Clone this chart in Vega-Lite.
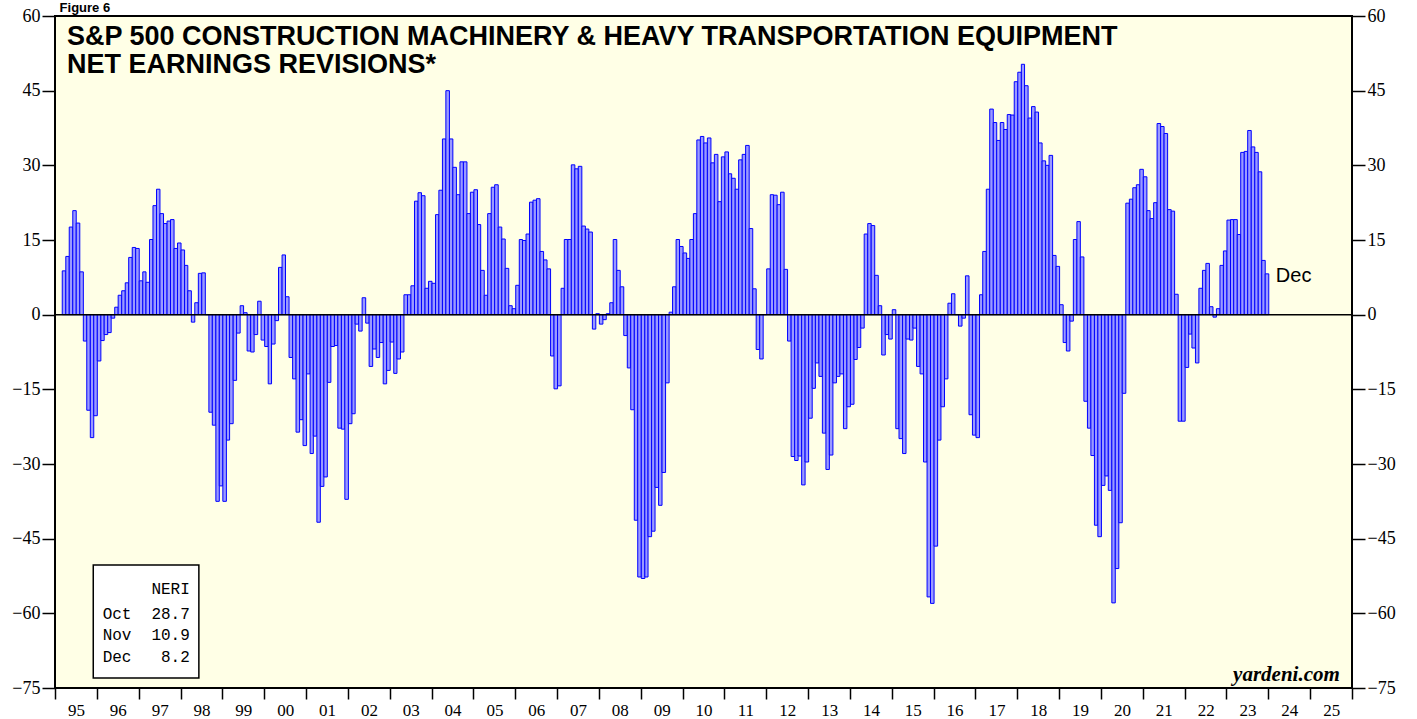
{
"$schema": "https://vega.github.io/schema/vega-lite/v6.json",
"width": 1297, "height": 672,
"autosize": {"type": "none"},
"padding": {"left": 55, "top": 16, "right": 65, "bottom": 31},
"background": "#ffffff",
"config": {"view": {"fill": "#FFFFE6", "stroke": "#000000", "strokeWidth": 2}, "axis": {"grid": false, "domain": false}},
"datasets": {"neri": [
{"d":"1995-03-15","v":8.8},{"d":"1995-04-15","v":11.7},{"d":"1995-05-15","v":17.6},{"d":"1995-06-15","v":20.9},{"d":"1995-07-15","v":18.4},{"d":"1995-08-15","v":8.6},{"d":"1995-09-15","v":-5.3},{"d":"1995-10-15","v":-19.2},{"d":"1995-11-15","v":-24.7},{"d":"1995-12-15","v":-20.3},
{"d":"1996-01-15","v":-9.3},{"d":"1996-02-15","v":-5.2},{"d":"1996-03-15","v":-4.0},{"d":"1996-04-15","v":-3.6},{"d":"1996-05-15","v":-0.7},{"d":"1996-06-15","v":1.5},{"d":"1996-07-15","v":3.9},{"d":"1996-08-15","v":4.8},{"d":"1996-09-15","v":6.4},{"d":"1996-10-15","v":11.5},{"d":"1996-11-15","v":13.5},{"d":"1996-12-15","v":13.3},
{"d":"1997-01-15","v":6.8},{"d":"1997-02-15","v":8.6},{"d":"1997-03-15","v":6.5},{"d":"1997-04-15","v":15.1},{"d":"1997-05-15","v":21.9},{"d":"1997-06-15","v":25.2},{"d":"1997-07-15","v":20.3},{"d":"1997-08-15","v":18.3},{"d":"1997-09-15","v":18.8},{"d":"1997-10-15","v":19.1},{"d":"1997-11-15","v":13.3},{"d":"1997-12-15","v":14.4},
{"d":"1998-01-15","v":13.0},{"d":"1998-02-15","v":9.9},{"d":"1998-03-15","v":4.8},{"d":"1998-04-15","v":-1.5},{"d":"1998-05-15","v":2.4},{"d":"1998-06-15","v":8.3},{"d":"1998-07-15","v":8.4},{"d":"1998-08-15","v":0},{"d":"1998-09-15","v":-19.6},{"d":"1998-10-15","v":-22.2},{"d":"1998-11-15","v":-37.5},{"d":"1998-12-15","v":-34.4},
{"d":"1999-01-15","v":-37.5},{"d":"1999-02-15","v":-25.2},{"d":"1999-03-15","v":-21.9},{"d":"1999-04-15","v":-13.2},{"d":"1999-05-15","v":-3.7},{"d":"1999-06-15","v":1.8},{"d":"1999-07-15","v":0.4},{"d":"1999-08-15","v":-7.3},{"d":"1999-09-15","v":-7.5},{"d":"1999-10-15","v":-4.0},{"d":"1999-11-15","v":2.7},{"d":"1999-12-15","v":-5.1},
{"d":"2000-01-15","v":-6.4},{"d":"2000-02-15","v":-13.9},{"d":"2000-03-15","v":-5.9},{"d":"2000-04-15","v":-1.2},{"d":"2000-05-15","v":9.5},{"d":"2000-06-15","v":12.0},{"d":"2000-07-15","v":3.6},{"d":"2000-08-15","v":-8.6},{"d":"2000-09-15","v":-12.9},{"d":"2000-10-15","v":-23.6},{"d":"2000-11-15","v":-21.1},{"d":"2000-12-15","v":-26.3},
{"d":"2001-01-15","v":-11.9},{"d":"2001-02-15","v":-27.9},{"d":"2001-03-15","v":-24.4},{"d":"2001-04-15","v":-41.7},{"d":"2001-05-15","v":-34.5},{"d":"2001-06-15","v":-32.6},{"d":"2001-07-15","v":-13.6},{"d":"2001-08-15","v":-6.4},{"d":"2001-09-15","v":-6.2},{"d":"2001-10-15","v":-22.8},{"d":"2001-11-15","v":-23.0},{"d":"2001-12-15","v":-37.1},
{"d":"2002-01-15","v":-21.9},{"d":"2002-02-15","v":-19.9},{"d":"2002-03-15","v":-1.9},{"d":"2002-04-15","v":-3.3},{"d":"2002-05-15","v":3.4},{"d":"2002-06-15","v":-1.7},{"d":"2002-07-15","v":-10.4},{"d":"2002-08-15","v":-6.9},{"d":"2002-09-15","v":-8.6},{"d":"2002-10-15","v":-5.6},{"d":"2002-11-15","v":-13.9},{"d":"2002-12-15","v":-11.2},
{"d":"2003-01-15","v":-5.5},{"d":"2003-02-15","v":-11.8},{"d":"2003-03-15","v":-8.9},{"d":"2003-04-15","v":-7.5},{"d":"2003-05-15","v":4.0},{"d":"2003-06-15","v":4.0},{"d":"2003-07-15","v":5.8},{"d":"2003-08-15","v":22.8},{"d":"2003-09-15","v":24.5},{"d":"2003-10-15","v":23.9},{"d":"2003-11-15","v":5.3},{"d":"2003-12-15","v":6.7},
{"d":"2004-01-15","v":6.3},{"d":"2004-02-15","v":20.1},{"d":"2004-03-15","v":25.0},{"d":"2004-04-15","v":35.3},{"d":"2004-05-15","v":45.0},{"d":"2004-06-15","v":35.3},{"d":"2004-07-15","v":29.6},{"d":"2004-08-15","v":24.1},{"d":"2004-09-15","v":30.7},{"d":"2004-10-15","v":30.7},{"d":"2004-11-15","v":20.3},{"d":"2004-12-15","v":24.6},
{"d":"2005-01-15","v":25.1},{"d":"2005-02-15","v":18.1},{"d":"2005-03-15","v":8.9},{"d":"2005-04-15","v":3.9},{"d":"2005-05-15","v":20.3},{"d":"2005-06-15","v":25.6},{"d":"2005-07-15","v":26.1},{"d":"2005-08-15","v":17.6},{"d":"2005-09-15","v":15.2},{"d":"2005-10-15","v":9.3},{"d":"2005-11-15","v":1.8},{"d":"2005-12-15","v":1.2},
{"d":"2006-01-15","v":5.9},{"d":"2006-02-15","v":15.1},{"d":"2006-03-15","v":14.9},{"d":"2006-04-15","v":16.2},{"d":"2006-05-15","v":22.6},{"d":"2006-06-15","v":23.0},{"d":"2006-07-15","v":23.3},{"d":"2006-08-15","v":12.7},{"d":"2006-09-15","v":11.0},{"d":"2006-10-15","v":9.2},{"d":"2006-11-15","v":-8.3},{"d":"2006-12-15","v":-14.9},
{"d":"2007-01-15","v":-14.3},{"d":"2007-02-15","v":5.3},{"d":"2007-03-15","v":15.1},{"d":"2007-04-15","v":15.1},{"d":"2007-05-15","v":30.1},{"d":"2007-06-15","v":29.3},{"d":"2007-07-15","v":29.8},{"d":"2007-08-15","v":17.8},{"d":"2007-09-15","v":17.2},{"d":"2007-10-15","v":16.6},{"d":"2007-11-15","v":-2.9},{"d":"2007-12-15","v":0.2},
{"d":"2008-01-15","v":-1.9},{"d":"2008-02-15","v":-1.0},{"d":"2008-03-15","v":0.2},{"d":"2008-04-15","v":2.4},{"d":"2008-05-15","v":15.1},{"d":"2008-06-15","v":8.9},{"d":"2008-07-15","v":5.6},{"d":"2008-08-15","v":-4.2},{"d":"2008-09-15","v":-10.7},{"d":"2008-10-15","v":-19.1},{"d":"2008-11-15","v":-41.3},{"d":"2008-12-15","v":-52.7},
{"d":"2009-01-15","v":-53.0},{"d":"2009-02-15","v":-52.7},{"d":"2009-03-15","v":-44.6},{"d":"2009-04-15","v":-43.5},{"d":"2009-05-15","v":-34.7},{"d":"2009-06-15","v":-38.3},{"d":"2009-07-15","v":-31.7},{"d":"2009-08-15","v":-13.7},{"d":"2009-09-15","v":0.5},{"d":"2009-10-15","v":5.6},{"d":"2009-11-15","v":15.1},{"d":"2009-12-15","v":13.7},
{"d":"2010-01-15","v":12.4},{"d":"2010-02-15","v":11.3},{"d":"2010-03-15","v":15.1},{"d":"2010-04-15","v":20.3},{"d":"2010-05-15","v":35.1},{"d":"2010-06-15","v":35.8},{"d":"2010-07-15","v":34.5},{"d":"2010-08-15","v":35.5},{"d":"2010-09-15","v":30.5},{"d":"2010-10-15","v":32.2},{"d":"2010-11-15","v":22.7},{"d":"2010-12-15","v":31.7},
{"d":"2011-01-15","v":32.7},{"d":"2011-02-15","v":28.3},{"d":"2011-03-15","v":27.4},{"d":"2011-04-15","v":25.2},{"d":"2011-05-15","v":31.1},{"d":"2011-06-15","v":32.2},{"d":"2011-07-15","v":34.0},{"d":"2011-08-15","v":17.3},{"d":"2011-09-15","v":5.2},{"d":"2011-10-15","v":-7.0},{"d":"2011-11-15","v":-8.9},{"d":"2011-12-15","v":0},
{"d":"2012-01-15","v":9.2},{"d":"2012-02-15","v":24.1},{"d":"2012-03-15","v":24.0},{"d":"2012-04-15","v":22.1},{"d":"2012-05-15","v":24.6},{"d":"2012-06-15","v":9.1},{"d":"2012-07-15","v":-5.3},{"d":"2012-08-15","v":-28.5},{"d":"2012-09-15","v":-29.3},{"d":"2012-10-15","v":-28.4},{"d":"2012-11-15","v":-34.2},{"d":"2012-12-15","v":-29.6},
{"d":"2013-01-15","v":-20.8},{"d":"2013-02-15","v":-14.8},{"d":"2013-03-15","v":-9.7},{"d":"2013-04-15","v":-12.4},{"d":"2013-05-15","v":-23.8},{"d":"2013-06-15","v":-31.1},{"d":"2013-07-15","v":-28.2},{"d":"2013-08-15","v":-13.7},{"d":"2013-09-15","v":-12.4},{"d":"2013-10-15","v":-11.9},{"d":"2013-11-15","v":-22.9},{"d":"2013-12-15","v":-18.5},
{"d":"2014-01-15","v":-18.0},{"d":"2014-02-15","v":-9.0},{"d":"2014-03-15","v":-6.6},{"d":"2014-04-15","v":-2.7},{"d":"2014-05-15","v":16.2},{"d":"2014-06-15","v":18.3},{"d":"2014-07-15","v":17.9},{"d":"2014-08-15","v":7.9},{"d":"2014-09-15","v":1.8},{"d":"2014-10-15","v":-8.1},{"d":"2014-11-15","v":-4.0},{"d":"2014-12-15","v":-4.9},
{"d":"2015-01-15","v":1.0},{"d":"2015-02-15","v":-22.9},{"d":"2015-03-15","v":-24.9},{"d":"2015-04-15","v":-27.9},{"d":"2015-05-15","v":-4.9},{"d":"2015-06-15","v":-5.1},{"d":"2015-07-15","v":-2.7},{"d":"2015-08-15","v":-10.4},{"d":"2015-09-15","v":-11.9},{"d":"2015-10-15","v":-29.6},{"d":"2015-11-15","v":-56.7},{"d":"2015-12-15","v":-58.0},
{"d":"2016-01-15","v":-46.5},{"d":"2016-02-15","v":-25.2},{"d":"2016-03-15","v":-18.5},{"d":"2016-04-15","v":-12.9},{"d":"2016-05-15","v":2.3},{"d":"2016-06-15","v":4.2},{"d":"2016-07-15","v":0},{"d":"2016-08-15","v":-2.3},{"d":"2016-09-15","v":-0.7},{"d":"2016-10-15","v":7.8},{"d":"2016-11-15","v":-20.1},{"d":"2016-12-15","v":-24.2},
{"d":"2017-01-15","v":-24.7},{"d":"2017-02-15","v":4.0},{"d":"2017-03-15","v":12.7},{"d":"2017-04-15","v":25.2},{"d":"2017-05-15","v":41.3},{"d":"2017-06-15","v":38.6},{"d":"2017-07-15","v":35.0},{"d":"2017-08-15","v":38.6},{"d":"2017-09-15","v":37.2},{"d":"2017-10-15","v":40.2},{"d":"2017-11-15","v":40.1},{"d":"2017-12-15","v":46.8},
{"d":"2018-01-15","v":48.7},{"d":"2018-02-15","v":50.3},{"d":"2018-03-15","v":46.0},{"d":"2018-04-15","v":39.5},{"d":"2018-05-15","v":41.8},{"d":"2018-06-15","v":40.7},{"d":"2018-07-15","v":34.5},{"d":"2018-08-15","v":30.9},{"d":"2018-09-15","v":30.0},{"d":"2018-10-15","v":32.0},{"d":"2018-11-15","v":11.9},{"d":"2018-12-15","v":9.7},
{"d":"2019-01-15","v":2.0},{"d":"2019-02-15","v":-5.6},{"d":"2019-03-15","v":-7.3},{"d":"2019-04-15","v":-1.3},{"d":"2019-05-15","v":15.1},{"d":"2019-06-15","v":18.7},{"d":"2019-07-15","v":11.6},{"d":"2019-08-15","v":-17.4},{"d":"2019-09-15","v":-22.8},{"d":"2019-10-15","v":-28.3},{"d":"2019-11-15","v":-42.3},{"d":"2019-12-15","v":-44.6},
{"d":"2020-01-15","v":-34.3},{"d":"2020-02-15","v":-32.4},{"d":"2020-03-15","v":-35.3},{"d":"2020-04-15","v":-57.9},{"d":"2020-05-15","v":-51.0},{"d":"2020-06-15","v":-41.8},{"d":"2020-07-15","v":-15.8},{"d":"2020-08-15","v":22.4},{"d":"2020-09-15","v":23.2},{"d":"2020-10-15","v":25.5},{"d":"2020-11-15","v":26.1},{"d":"2020-12-15","v":29.2},
{"d":"2021-01-15","v":27.7},{"d":"2021-02-15","v":20.9},{"d":"2021-03-15","v":19.3},{"d":"2021-04-15","v":22.5},{"d":"2021-05-15","v":38.4},{"d":"2021-06-15","v":37.8},{"d":"2021-07-15","v":36.4},{"d":"2021-08-15","v":21.1},{"d":"2021-09-15","v":20.8},{"d":"2021-10-15","v":4.1},{"d":"2021-11-15","v":-21.4},{"d":"2021-12-15","v":-21.4},
{"d":"2022-01-15","v":-10.6},{"d":"2022-02-15","v":-3.9},{"d":"2022-03-15","v":-6.7},{"d":"2022-04-15","v":-9.7},{"d":"2022-05-15","v":5.3},{"d":"2022-06-15","v":8.9},{"d":"2022-07-15","v":10.3},{"d":"2022-08-15","v":1.6},{"d":"2022-09-15","v":-0.5},{"d":"2022-10-15","v":1.2},{"d":"2022-11-15","v":9.9},{"d":"2022-12-15","v":12.8},
{"d":"2023-01-15","v":19.0},{"d":"2023-02-15","v":19.1},{"d":"2023-03-15","v":19.1},{"d":"2023-04-15","v":16.1},{"d":"2023-05-15","v":32.6},{"d":"2023-06-15","v":32.8},{"d":"2023-07-15","v":37.0},{"d":"2023-08-15","v":33.7},{"d":"2023-09-15","v":32.6},{"d":"2023-10-15","v":28.7},{"d":"2023-11-15","v":10.9},{"d":"2023-12-15","v":8.2}
]},
"layer": [
{
"data": {"name": "neri"},
"mark": {"type": "bar", "fill": "#9A9AFF", "stroke": "#0000FF", "strokeWidth": 1, "binSpacing": 0},
"encoding": {
"x": {"field": "d", "timeUnit": "yearmonth", "type": "temporal", "title": null,
"scale": {"domain": [{"year": 1995, "month": 1, "date": 1}, {"year": 2026, "month": 1, "date": 1}]},
"axis": {"orient": "bottom", "tickCount": {"interval": "year", "step": 1}, "labelExpr": "year(datum.value) > 2025 ? '' : timeFormat(datum.value, '%y')", "labelOffset": 21, "labelAlign": "center", "labelBaseline": "top", "labelFlush": false, "labelOverlap": false, "labelBound": false, "tickSize": 11, "tickColor": "#000", "tickWidth": 1.5, "labelPadding": 3, "labelFont": "Liberation Serif", "labelFontSize": 17, "labelColor": "#000"}},
"y": {"field": "v", "type": "quantitative", "title": null,
"scale": {"domain": [-75, 60], "nice": false},
"axis": {"orient": "left", "values": [-75, -60, -45, -30, -15, 0, 15, 30, 45, 60], "tickSize": 13, "tickColor": "#000", "tickWidth": 1.5, "labelPadding": 2, "labelFont": "Liberation Serif", "labelFontSize": 18, "labelColor": "#000", "labelFlush": false, "labelOverlap": false, "labelBound": false}}
}
},
{
"data": {"values": [{}]},
"mark": {"type": "rule", "color": "#000", "strokeWidth": 1.5},
"encoding": {
"y": {"datum": 0, "type": "quantitative",
"axis": {"orient": "right", "title": null, "values": [-75, -60, -45, -30, -15, 0, 15, 30, 45, 60], "tickSize": 13, "tickColor": "#000", "tickWidth": 1.5, "labelPadding": 2, "labelFont": "Liberation Serif", "labelFontSize": 18, "labelColor": "#000", "labelFlush": false, "labelOverlap": false, "labelBound": false}}
}
},
{
"data": {"values": [{}]},
"mark": {"type": "text", "text": ["S&P 500 CONSTRUCTION MACHINERY & HEAVY TRANSPORTATION EQUIPMENT", "NET EARNINGS REVISIONS*"], "align": "left", "baseline": "alphabetic", "font": "Liberation Sans", "fontSize": 27, "fontWeight": "bold", "color": "#000", "lineHeight": 28},
"encoding": {
"x": {"datum": {"year": 1995, "month": 4, "date": 15}, "type": "temporal", "axis": null},
"y": {"datum": 54.27, "type": "quantitative", "axis": null}
}
},
{
"data": {"values": [{}]},
"mark": {"type": "text", "text": "Figure 6", "align": "left", "baseline": "alphabetic", "font": "Liberation Sans", "fontSize": 13, "fontWeight": "bold", "color": "#000"},
"encoding": {
"x": {"datum": {"year": 1995, "month": 2, "date": 10}, "type": "temporal", "axis": null},
"y": {"datum": 60.9, "type": "quantitative", "axis": null}
}
},
{
"data": {"values": [{}]},
"mark": {"type": "text", "text": "Dec", "align": "left", "baseline": "alphabetic", "font": "Liberation Sans", "fontSize": 20, "color": "#000"},
"encoding": {
"x": {"datum": {"year": 2024, "month": 3, "date": 7}, "type": "temporal", "axis": null},
"y": {"datum": 6.56, "type": "quantitative", "axis": null}
}
},
{
"data": {"values": [{}]},
"mark": {"type": "rect", "fill": "#ffffff", "stroke": "#000", "strokeWidth": 1.5},
"encoding": {
"x": {"datum": {"year": 1995, "month": 12, "date": 1}, "type": "temporal", "axis": null},
"x2": {"datum": {"year": 1998, "month": 6, "date": 10}},
"y": {"datum": -50.3, "type": "quantitative", "axis": null},
"y2": {"datum": -73.0}
}
},
{
"data": {"values": [{}]},
"mark": {"type": "text", "text": "NERI", "align": "right", "baseline": "alphabetic", "font": "Liberation Mono", "fontSize": 16, "color": "#000"},
"encoding": {
"x": {"datum": {"year": 1998, "month": 3, "date": 23}, "type": "temporal", "axis": null},
"y": {"datum": -56.1, "type": "quantitative", "axis": null}
}
},
{
"data": {"values": [{}]},
"mark": {"type": "text", "text": ["28.7", "10.9", "8.2"], "align": "right", "baseline": "alphabetic", "font": "Liberation Mono", "fontSize": 16, "color": "#000", "lineHeight": 21.5},
"encoding": {
"x": {"datum": {"year": 1998, "month": 3, "date": 23}, "type": "temporal", "axis": null},
"y": {"datum": -61.1, "type": "quantitative", "axis": null}
}
},
{
"data": {"values": [{}]},
"mark": {"type": "text", "text": ["Oct", "Nov", "Dec"], "align": "left", "baseline": "alphabetic", "font": "Liberation Mono", "fontSize": 16, "color": "#000", "lineHeight": 21.5},
"encoding": {
"x": {"datum": {"year": 1996, "month": 2, "date": 21}, "type": "temporal", "axis": null},
"y": {"datum": -61.1, "type": "quantitative", "axis": null}
}
},
{
"data": {"values": [{}]},
"mark": {"type": "text", "text": "yardeni.com", "align": "right", "baseline": "alphabetic", "font": "Liberation Serif", "fontSize": 21, "fontWeight": "bold", "fontStyle": "italic", "color": "#000"},
"encoding": {
"x": {"datum": {"year": 2025, "month": 9, "date": 17}, "type": "temporal", "axis": null},
"y": {"datum": -73.6, "type": "quantitative", "axis": null}
}
}
],
"resolve": {"axis": {"x": "independent", "y": "independent"}}
}
